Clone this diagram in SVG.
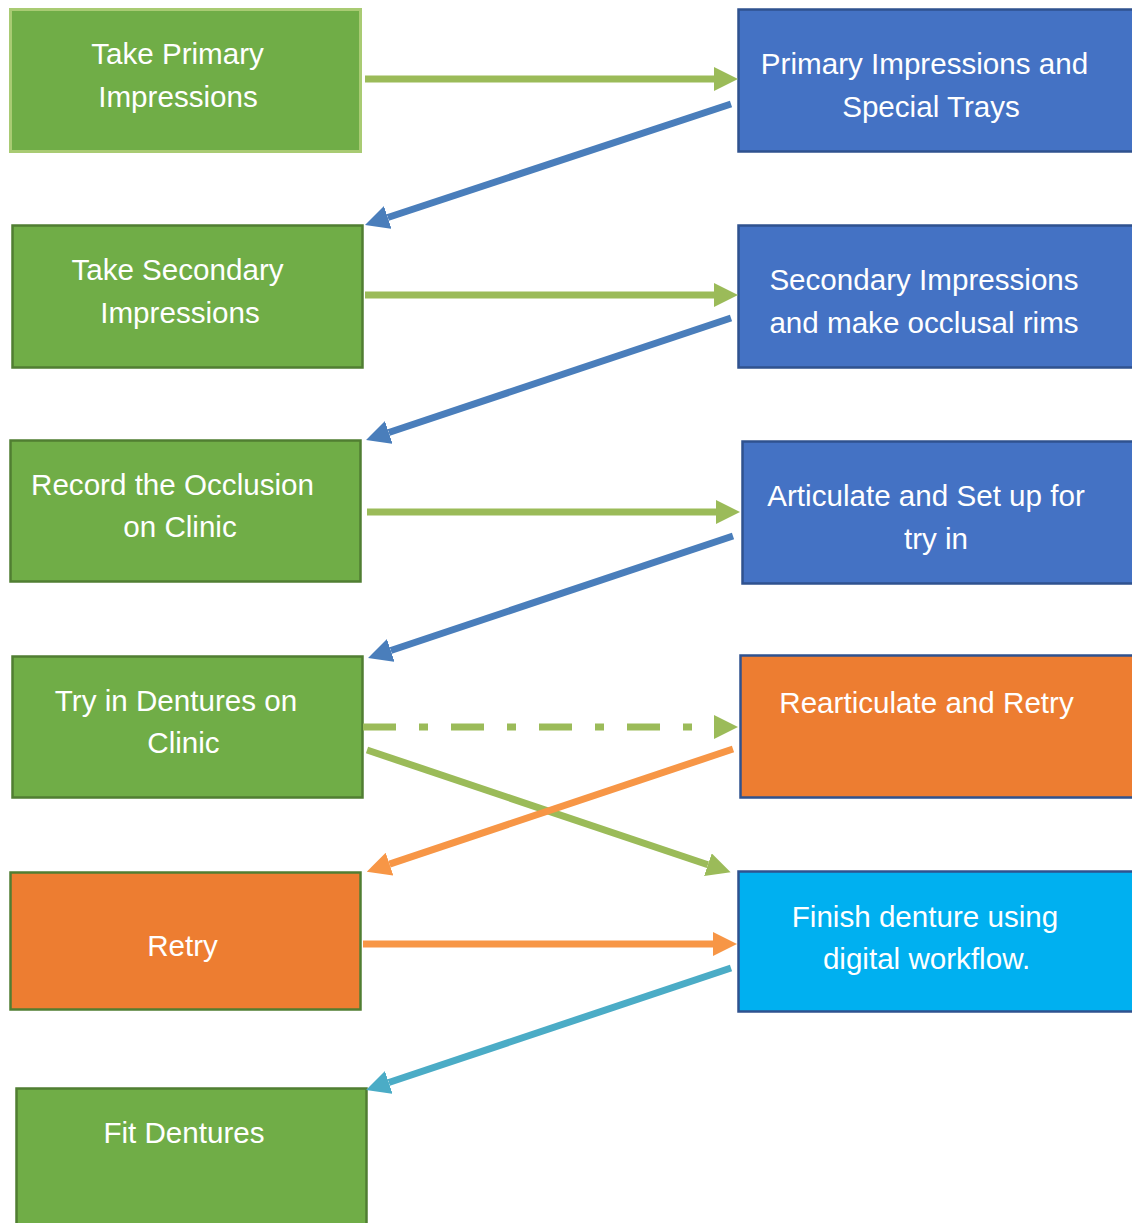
<svg xmlns="http://www.w3.org/2000/svg" width="1132" height="1223" viewBox="0 0 1132 1223">
<style>
.g{fill:#70AD47;stroke:#507E32;stroke-width:2.5}
.g1{fill:#70AD47;stroke:#A9CB73;stroke-width:3}
.b{fill:#4472C4;stroke:#2F528F;stroke-width:2.5}
.o{fill:#ED7D31;stroke:#2F528F;stroke-width:2.5}
.og{fill:#ED7D31;stroke:#507E32;stroke-width:2.5}
.c{fill:#00B0F0;stroke:#2F528F;stroke-width:2.5}
text{font-family:"Liberation Sans",Arial,sans-serif;font-size:29.6px;fill:#FFFFFF;text-anchor:middle}
.cg{stroke:#9BBB59;stroke-width:7;fill:none}
.cb{stroke:#4A7EBB;stroke-width:7;fill:none}
.co{stroke:#F79646;stroke-width:7;fill:none}
.ct{stroke:#4BACC6;stroke-width:7;fill:none}
</style>
<defs>
<marker id="mg" markerUnits="userSpaceOnUse" markerWidth="24" markerHeight="24" refX="0" refY="12" orient="auto"><path d="M0,0 L24,12 L0,24 z" fill="#9BBB59"/></marker>
<marker id="mb" markerUnits="userSpaceOnUse" markerWidth="24" markerHeight="24" refX="0" refY="12" orient="auto"><path d="M0,0 L24,12 L0,24 z" fill="#4A7EBB"/></marker>
<marker id="mo" markerUnits="userSpaceOnUse" markerWidth="24" markerHeight="24" refX="0" refY="12" orient="auto"><path d="M0,0 L24,12 L0,24 z" fill="#F79646"/></marker>
<marker id="mt" markerUnits="userSpaceOnUse" markerWidth="24" markerHeight="24" refX="0" refY="12" orient="auto"><path d="M0,0 L24,12 L0,24 z" fill="#4BACC6"/></marker>
</defs>
<rect width="1132" height="1223" fill="#FFFFFF"/>

<g id="n-take-primary"><rect class="g1" x="10.5" y="9.5" width="350" height="142"/><text x="177.5" y="64">Take Primary</text><text x="178" y="107">Impressions</text></g>
<g id="n-primary-trays"><rect class="b" x="738.5" y="9.5" width="400" height="142"/><text x="924.5" y="74">Primary Impressions and</text><text x="931" y="117">Special Trays</text></g>
<g id="n-take-secondary"><rect class="g" x="12.5" y="225.5" width="350" height="142"/><text x="177.5" y="280">Take Secondary</text><text x="180" y="323">Impressions</text></g>
<g id="n-secondary-rims"><rect class="b" x="738.5" y="225.5" width="400" height="142"/><text x="924" y="290">Secondary Impressions</text><text x="924" y="333">and make occlusal rims</text></g>
<g id="n-record"><rect class="g" x="10.5" y="440.5" width="350" height="141"/><text x="172.5" y="495">Record the Occlusion</text><text x="180" y="537">on Clinic</text></g>
<g id="n-articulate"><rect class="b" x="742.5" y="441.5" width="400" height="142"/><text x="926" y="506">Articulate and Set up for</text><text x="936" y="549">try in</text></g>
<g id="n-try-in"><rect class="g" x="12.5" y="656.5" width="350" height="141"/><text x="176" y="711">Try in Dentures on</text><text x="183.5" y="753">Clinic</text></g>
<g id="n-rearticulate"><rect class="o" x="740.5" y="655.5" width="400" height="142"/><text x="926.5" y="713">Rearticulate and Retry</text></g>
<g id="n-retry"><rect class="og" x="10.5" y="872.5" width="350" height="137"/><text x="182.5" y="956">Retry</text></g>
<g id="n-finish"><rect class="c" x="738.5" y="871.5" width="400" height="140"/><text x="925" y="927">Finish denture using</text><text x="926.5" y="969">digital workflow.</text></g>
<g id="n-fit"><rect class="g" x="16.5" y="1088.5" width="350" height="150"/><text x="184" y="1143">Fit Dentures</text></g>

<g id="connectors">
<line class="cg" x1="365" y1="79" x2="714" y2="79" marker-end="url(#mg)"/>
<line class="cb" x1="731" y1="104" x2="387.8" y2="217.5" marker-end="url(#mb)"/>
<line class="cg" x1="365" y1="295" x2="714" y2="295" marker-end="url(#mg)"/>
<line class="cb" x1="731" y1="318" x2="388.8" y2="432.5" marker-end="url(#mb)"/>
<line class="cg" x1="367" y1="512" x2="716" y2="512" marker-end="url(#mg)"/>
<line class="cb" x1="733" y1="536" x2="390.8" y2="650.5" marker-end="url(#mb)"/>
<line class="cg" x1="363" y1="727" x2="714" y2="727" stroke-width="9" stroke-dasharray="33 23 9 23" marker-end="url(#mg)"/>
<line class="cg" x1="367" y1="750" x2="707.9" y2="864.7" marker-end="url(#mg)"/>
<line class="co" x1="733" y1="749" x2="389.5" y2="864.1" marker-end="url(#mo)"/>
<line class="co" x1="363" y1="944" x2="713" y2="944" marker-end="url(#mo)"/>
<line class="ct" x1="731" y1="968" x2="388.8" y2="1082.5" marker-end="url(#mt)"/>
</g>
</svg>
